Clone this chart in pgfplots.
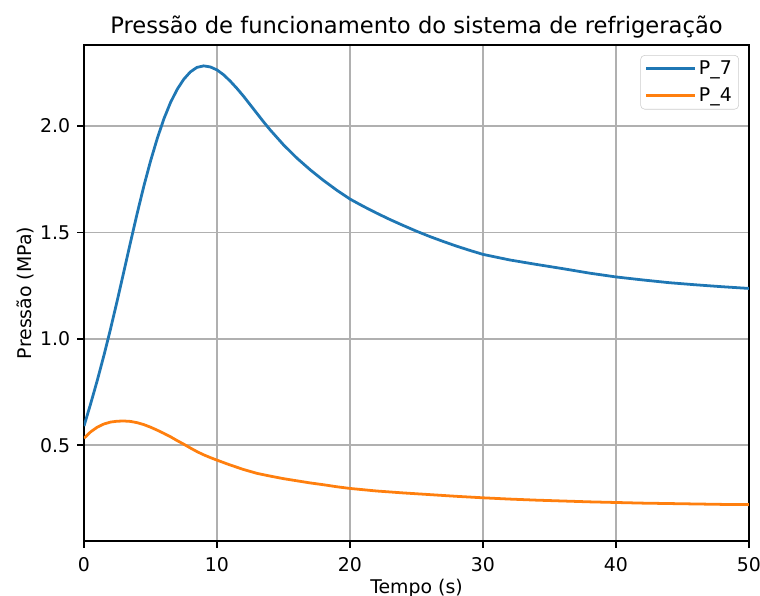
\documentclass[border=0pt]{standalone}
\usepackage{pgfplots}
\pgfplotsset{compat=1.18}
\usepackage{fontspec}
\setmainfont{DejaVu Sans}
\definecolor{mplblue}{HTML}{1F77B4}
\definecolor{mplorange}{HTML}{FF7F0E}
\definecolor{gridgray}{HTML}{B0B0B0}
\begin{document}
\begin{tikzpicture}[x=0.72pt,y=0.72pt]
\useasboundingbox (-84,-55) rectangle (676,541);
\begin{axis}[
  at={(0,0)}, anchor=south west,
  scale only axis,
  width=478.8pt, height=357.1pt,
  xmin=0, xmax=50, ymin=0.05, ymax=2.381,
  xtick={0,10,20,30,40,50},
  ytick={0.5,1.0,1.5,2.0},
  xtick pos=bottom, ytick pos=left,
  /pgf/number format/assume math mode=true,
  tick align=outside,
  major tick length=4.8pt,
  tick style={black, line width=1.1pt},
  axis line style={line width=1.1pt},
  grid=major,
  major grid style={gridgray, line width=1.1pt},
  ticklabel style={font=\fontsize{13.6}{16}\selectfont, inner sep=3pt},
  xticklabel style={yshift=-4pt},
  yticklabel style={xshift=-2pt, /pgf/number format/.cd, fixed, fixed zerofill, precision=1},
  title={Pressão de funcionamento do sistema de refrigeração},
  title style={font=\fontsize{16.3}{19}\selectfont, yshift=-4.3pt},
  xlabel={Tempo (s)},
  ylabel={Pressão (MPa)},
  label style={font=\fontsize{13.6}{16}\selectfont},
  xlabel style={yshift=1.5pt},
  ylabel style={yshift=-2pt},
  legend style={at={(1,1)}, anchor=north east, xshift=-7.2pt, yshift=-7.2pt,
    draw=black!20, rounded corners=3pt, font=\fontsize{13.6}{16}\selectfont,
    inner xsep=3pt, inner ysep=2pt, row sep=4pt},
  legend cell align=left,
  legend image code/.code={\draw[#1] (0pt,0pt) -- (28.8pt,0pt); \path (0pt,0pt) -- (35pt,0pt);},
]
\addplot[mplblue, line width=2pt] coordinates {
(0,0.59) (0.5,0.695) (1,0.805) (1.5,0.923) (2,1.048) (2.5,1.18) (3,1.317) (3.5,1.455)
(4,1.59) (4.5,1.718) (5,1.835) (5.5,1.94) (6,2.033) (6.5,2.11) (7,2.172) (7.5,2.22)
(8,2.255) (8.5,2.276) (9,2.283) (9.5,2.278) (10,2.264) (10.5,2.241) (11,2.211)
(11.5,2.177) (12,2.14) (12.5,2.10) (13,2.06) (13.5,2.02) (14,1.982) (15,1.912)
(16,1.85) (17,1.795) (18,1.745) (19,1.699) (20,1.657) (21,1.623) (22,1.591)
(23,1.561) (24,1.533) (25,1.506) (26,1.481) (27,1.458) (28,1.436) (29,1.416)
(30,1.397) (32,1.371) (34,1.350) (36,1.330) (38,1.309) (40,1.291) (42,1.277)
(44,1.264) (46,1.254) (48,1.245) (50,1.237)
};
\addlegendentry{P\_7}
\addplot[mplorange, line width=2pt] coordinates {
(0,0.533) (0.5,0.563) (1,0.585) (1.5,0.600) (2,0.609) (2.5,0.613) (3,0.614)
(3.5,0.612) (4,0.606) (4.5,0.597) (5,0.585) (5.5,0.571) (6,0.556) (6.5,0.54)
(7,0.522) (7.5,0.505) (8,0.487) (8.5,0.47) (9,0.455) (9.5,0.442) (10,0.43)
(11,0.407) (12,0.386) (13,0.368) (14,0.355) (15,0.343) (16,0.333) (17,0.323)
(18,0.3145) (19,0.305) (20,0.297) (22,0.285) (24,0.276) (26,0.268) (28,0.26)
(30,0.253) (32,0.247) (34,0.242) (36,0.238) (38,0.234) (40,0.231) (42,0.228)
(44,0.226) (46,0.224) (48,0.222) (50,0.221)
};
\addlegendentry{P\_4}
\end{axis}
\end{tikzpicture}
\end{document}
